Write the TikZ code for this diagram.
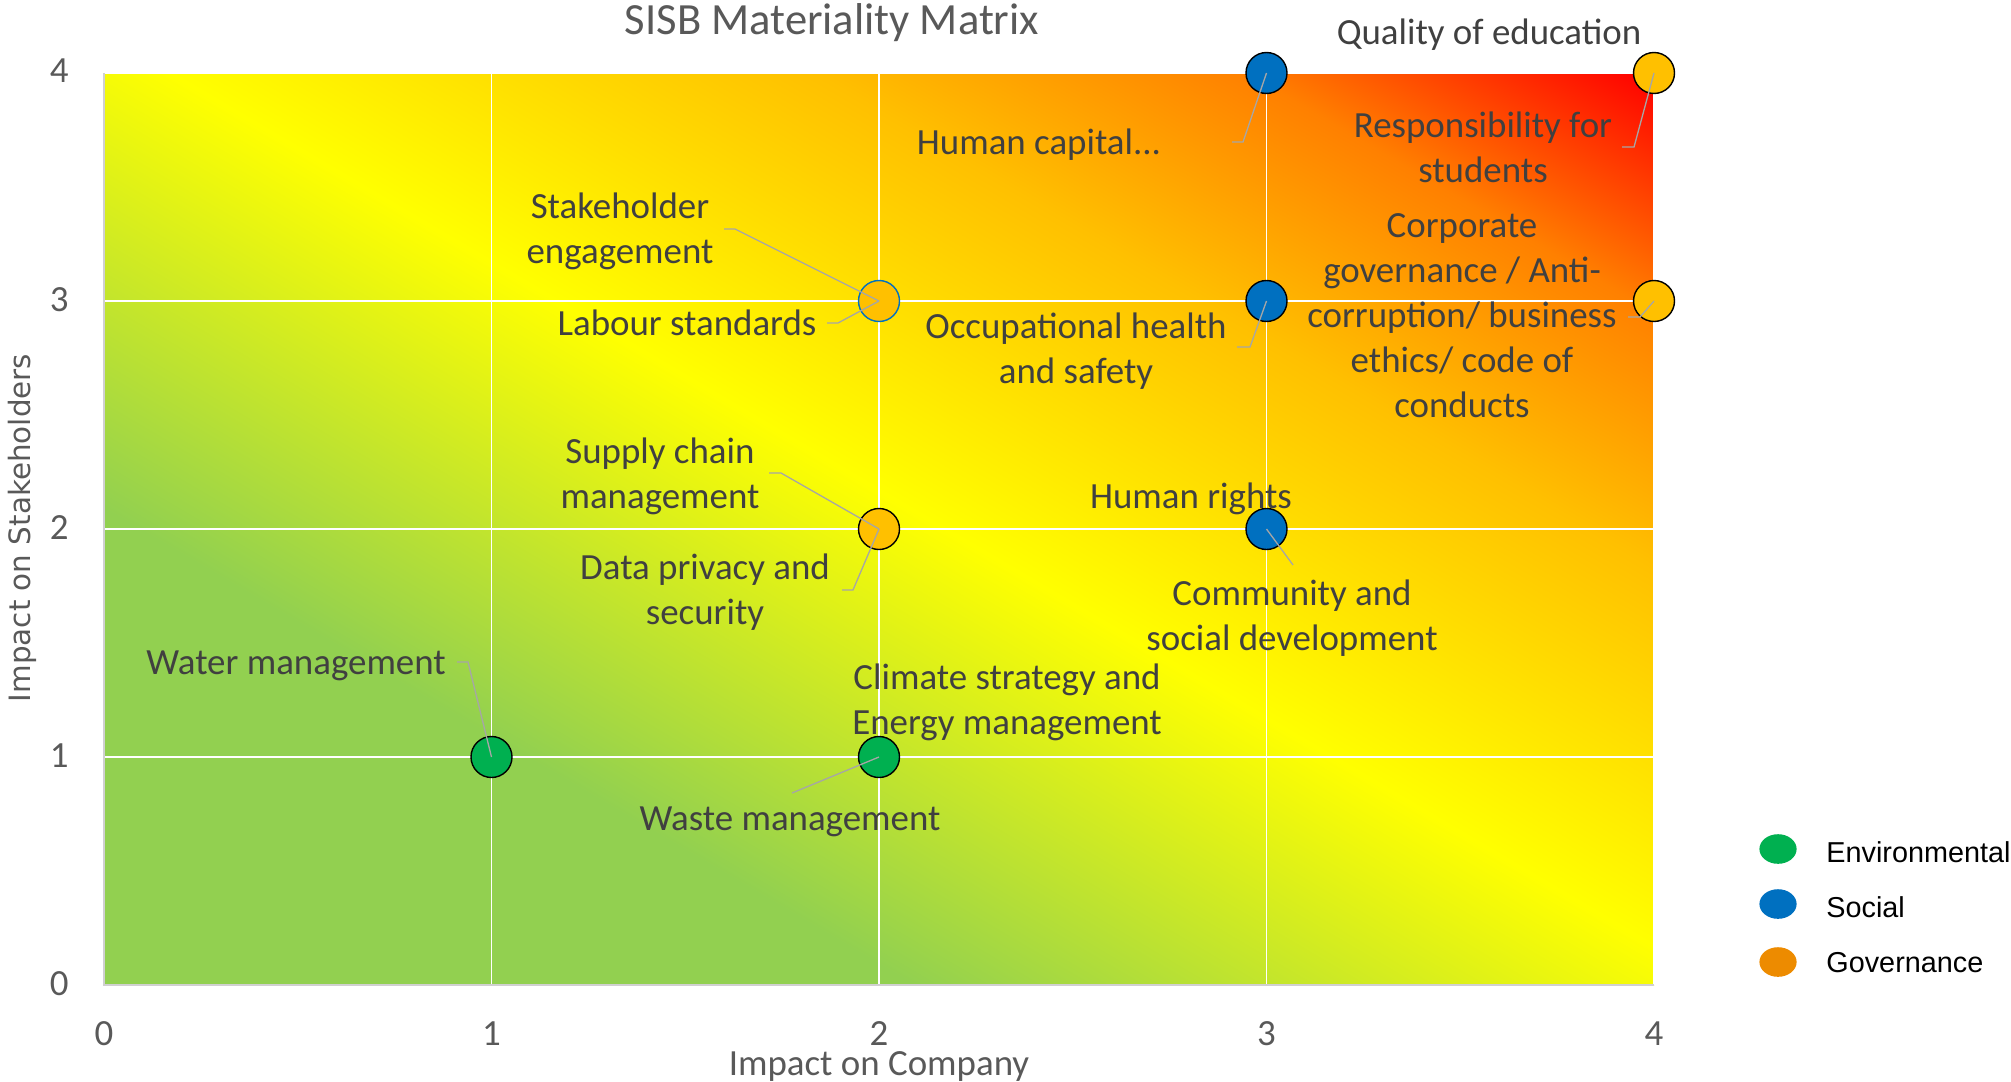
\documentclass[tikz,border=0pt]{standalone}
\usepackage{fontspec}
\setmainfont{Carlito}
\newfontfamily\legfont{Liberation Sans}
\newfontfamily\yfont{DejaVu Sans}
\usetikzlibrary{shapes.geometric}
\definecolor{mgreen}{HTML}{92D050}
\definecolor{myellow}{HTML}{FFFF00}
\definecolor{morangeA}{HTML}{FFC000}
\definecolor{morangeB}{HTML}{FF8000}
\definecolor{mred}{HTML}{FF0000}
\definecolor{cgreen}{HTML}{00B050}
\definecolor{cblue}{HTML}{0070C0}
\definecolor{cgold}{HTML}{FFC000}
\definecolor{corange}{HTML}{ED8B00}
\definecolor{labelgray}{HTML}{404040}
\definecolor{titlegray}{HTML}{595959}
\definecolor{leadgray}{HTML}{A6A6A6}
\definecolor{axisgray}{HTML}{D0D0D0}
\pgfdeclarehorizontalshading{matrixshade}{100bp}{color(0bp)=(mgreen); color(33bp)=(mgreen); color(51.5bp)=(myellow); color(66.3bp)=(morangeA); color(76.2bp)=(morangeB); color(85.4bp)=(mred); color(100bp)=(mred)}
\newcommand{\mlines}[1]{\begin{tabular}[t]{@{}c@{}}#1\end{tabular}}
\begin{document}
\begin{tikzpicture}[x=0.5pt,y=-0.5pt,
  lbl/.style={font=\fontsize{18.45pt}{22.6pt}\selectfont, text=labelgray, inner sep=0pt, anchor=base},
  tick/.style={font=\fontsize{18.45pt}{22.6pt}\selectfont, text=titlegray, inner sep=0pt},
  gridline/.style={draw=white, line width=0.65pt},
  axisline/.style={draw=axisgray, line width=0.65pt},
  pt/.style={circle, draw=black, line width=0.7pt, inner sep=0pt, minimum size=20.5pt},
  leader/.style={draw=leadgray, line width=0.65pt},
  legdot/.style={ellipse, inner sep=0pt, minimum width=18.6pt, minimum height=14.8pt},
  legtxt/.style={font=\legfont\fontsize{14.4pt}{17pt}\selectfont, text=black, inner sep=0pt, anchor=base west}]
\useasboundingbox (0,0) rectangle (2011,1081);
% background gradient (unit square stretched to the plot area)
\begin{scope}[transform canvas={shift={(52pt,-492.5pt)}, xscale=7.75, yscale=4.56}]
\shade[shading=matrixshade, shading angle=45] (0pt,0pt) rectangle (100pt,100pt);
\end{scope}
% grid
\foreach \gx in {491.5,879,1266.5,1654} \draw[gridline] (\gx,73) -- (\gx,985);
\foreach \gy in {73,301,529,757} \draw[gridline] (104,\gy) -- (1654,\gy);
\draw[axisline] (104,73) -- (104,985) -- (1654,985);
% ticks
\node[tick, anchor=base east] (ty0) at (69,995) {0};
\node[tick, anchor=base east] (ty1) at (69,767) {1};
\node[tick, anchor=base east] (ty2) at (69,539) {2};
\node[tick, anchor=base east] (ty3) at (69,311) {3};
\node[tick, anchor=base east] (ty4) at (69,83) {4};
\node[tick, anchor=base] (tx0) at (104,1045) {0};
\node[tick, anchor=base] (tx1) at (491.5,1045) {1};
\node[tick, anchor=base] (tx2) at (879,1045) {2};
\node[tick, anchor=base] (tx3) at (1266.5,1045) {3};
\node[tick, anchor=base] (tx4) at (1654,1045) {4};
% titles
\node[tick, anchor=base, font=\fontsize{22.3pt}{26pt}\selectfont] (title) at (832,35) {SISB Materiality Matrix};
\node[tick, anchor=base] (xtitle) at (879,1075) {Impact on Company};
\node[rotate=90, font=\yfont\fontsize{14.7pt}{18pt}\selectfont, text=titlegray, inner sep=0pt] (ytitle) at (22,528) {Impact on Stakeholders};
% points
\node[pt, fill=cgreen] (p11) at (491.5,757) {};
\node[pt, fill=cgreen] (p21) at (879,757) {};
\node[pt, fill=cgold] (p22) at (879,529) {};
\node[pt, fill=cgold, draw=cblue] (p23) at (879,301) {};
\node[pt, fill=cblue] (p32) at (1266.5,529) {};
\node[pt, fill=cblue] (p33) at (1266.5,301) {};
\node[pt, fill=cblue] (p34) at (1266.5,73) {};
\node[pt, fill=cgold] (p43) at (1654,301) {};
\node[pt, fill=cgold] (p44) at (1654,73) {};
% leader end points
\coordinate (hcA) at (1243,142); \coordinate (hcB) at (1232,142);
\coordinate (rsA) at (1634,147); \coordinate (rsB) at (1622,147);
\coordinate (seA) at (735,229); \coordinate (seB) at (724,229);
\coordinate (lsA) at (838,323); \coordinate (lsB) at (827,323);
\coordinate (ohA) at (1250,347); \coordinate (ohB) at (1237,347);
\coordinate (cgA) at (1640,317); \coordinate (cgB) at (1628,317);
\coordinate (scA) at (781,473); \coordinate (scB) at (769,473);
\coordinate (dpA) at (853,590); \coordinate (dpB) at (842,590);
\coordinate (cdA) at (1293,565);
\coordinate (wmA) at (468,662); \coordinate (wmB) at (457,662);
\coordinate (wsA) at (792,793);
% leaders
\draw[leader] (p34.center) -- (hcA) -- (hcB);
\draw[leader] (p44.center) -- (rsA) -- (rsB);
\draw[leader] (p23.center) -- (seA) -- (seB);
\draw[leader] (p23.center) -- (lsA) -- (lsB);
\draw[leader] (p33.center) -- (ohA) -- (ohB);
\draw[leader] (p43.center) -- (cgA) -- (cgB);
\draw[leader] (p22.center) -- (scA) -- (scB);
\draw[leader] (p22.center) -- (dpA) -- (dpB);
\draw[leader] (p32.center) -- (cdA);
\draw[leader] (p11.center) -- (wmA) -- (wmB);
\draw[leader] (p21.center) -- (wsA);
% labels
\node[lbl] (lHC) at (1039,155) {Human capital...};
\node[lbl] (lQE) at (1489,45) {Quality of education};
\node[lbl] (lRS) at (1483,137) {\mlines{Responsibility for\\students}};
\node[lbl] (lSE) at (620,218) {\mlines{Stakeholder\\engagement}};
\node[lbl] (lLS) at (687,335) {Labour standards};
\node[lbl] (lOH) at (1076,338) {\mlines{Occupational health\\and safety}};
\node[lbl] (lCG) at (1462,237) {\mlines{Corporate\\governance / Anti-\\corruption/ business\\ethics/ code of\\conducts}};
\node[lbl] (lSC) at (660,463) {\mlines{Supply chain\\management}};
\node[lbl] (lDP) at (705,579) {\mlines{Data privacy and\\security}};
\node[lbl] (lHR) at (1191,508) {Human rights};
\node[lbl] (lCD) at (1292,605) {\mlines{Community and\\social development}};
\node[lbl] (lWM) at (296,674) {Water management};
\node[lbl] (lCS) at (1007,689) {\mlines{Climate strategy and\\Energy management}};
\node[lbl] (lWS) at (790,830) {Waste management};
% legend
\node[legdot, fill=cgreen] (lg1) at (1778,849) {};
\node[legdot, fill=cblue] (lg2) at (1778,904) {};
\node[legdot, fill=corange] (lg3) at (1778,962) {};
\node[legtxt] (lt1) at (1826,862) {Environmental};
\node[legtxt] (lt2) at (1826,917) {Social};
\node[legtxt] (lt3) at (1826,972) {Governance};
\end{tikzpicture}
\end{document}
